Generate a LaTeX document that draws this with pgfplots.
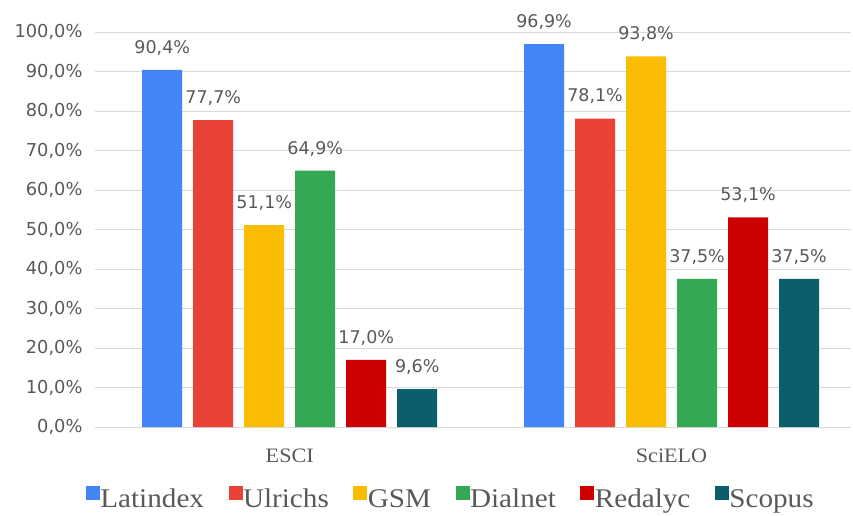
\documentclass[border=0pt]{standalone}
\usepackage{pgfplots}
\pgfplotsset{compat=1.18}
\usepackage{fontspec}
\setmainfont{Liberation Serif}[FakeStretch=1.08]
\newfontfamily\numfont{DejaVu Sans}
\definecolor{cLat}{HTML}{4285F4}
\definecolor{cUlr}{HTML}{EA4335}
\definecolor{cGSM}{HTML}{FBBC04}
\definecolor{cDia}{HTML}{34A853}
\definecolor{cRed}{HTML}{CC0000}
\definecolor{cSco}{HTML}{0B5F6D}
\definecolor{txt}{HTML}{595959}
\definecolor{grd}{HTML}{D9D9D9}
\begin{document}
\begin{tikzpicture}
\useasboundingbox (-95pt,-88pt) rectangle (758pt,427pt);
\begin{axis}[
  at={(0pt,0pt)}, anchor=south west,
  scale only axis, width=756pt, height=395pt,
  ymin=0, ymax=100, xmin=-0.51, xmax=1.47,
  ybar=11pt, bar width=40pt,
  clip=false,
  axis line style={draw=none},
  major tick length=0pt,
  ytick={0,10,...,100},
  ymajorgrids, grid style={grd, line width=1pt},
  /pgf/number format/assume math mode=true,
  yticklabel={\pgfmathprintnumber[fixed,fixed zerofill,precision=1,use comma]{\tick}\%},
  yticklabel style={font=\numfont\fontsize{17.8}{19}\selectfont, text=txt, xshift=-9pt},
  xtick={0,1}, xticklabels={ESCI,SciELO},
  xticklabel style={font=\fontsize{20.5}{22}\selectfont, text=txt, yshift=-18pt},
  nodes near coords={\pgfmathprintnumber[assume math mode=true,fixed,fixed zerofill,precision=1,use comma]{\pgfplotspointmeta}\%},
  every node near coord/.append style={font=\numfont\fontsize{17.5}{19}\selectfont, text=txt, yshift=11pt},
  legend columns=6,
  legend style={draw=none, fill=none, at={(0.4696,-0.18)}, anchor=center,
    font=\fontsize{27}{29}\selectfont, text=txt,
    inner sep=0pt,
    nodes={inner sep=0.5pt},
    /tikz/every even column/.append style={column sep=24pt}},
  legend image code/.code={\fill[#1] (0pt,-1pt) rectangle (14pt,13pt);},
]
\addplot[fill=cLat, draw=none] coordinates {(0,90.4) (1,96.9)};
\addplot[fill=cUlr, draw=none] coordinates {(0,77.7) (1,78.1)};
\addplot[fill=cGSM, draw=none] coordinates {(0,51.1) (1,93.8)};
\addplot[fill=cDia, draw=none] coordinates {(0,64.9) (1,37.5)};
\addplot[fill=cRed, draw=none] coordinates {(0,17.0) (1,53.1)};
\addplot[fill=cSco, draw=none] coordinates {(0,9.6) (1,37.5)};
\legend{Latindex,Ulrichs,GSM,Dialnet,Redalyc,Scopus}
\end{axis}
\end{tikzpicture}
\end{document}
